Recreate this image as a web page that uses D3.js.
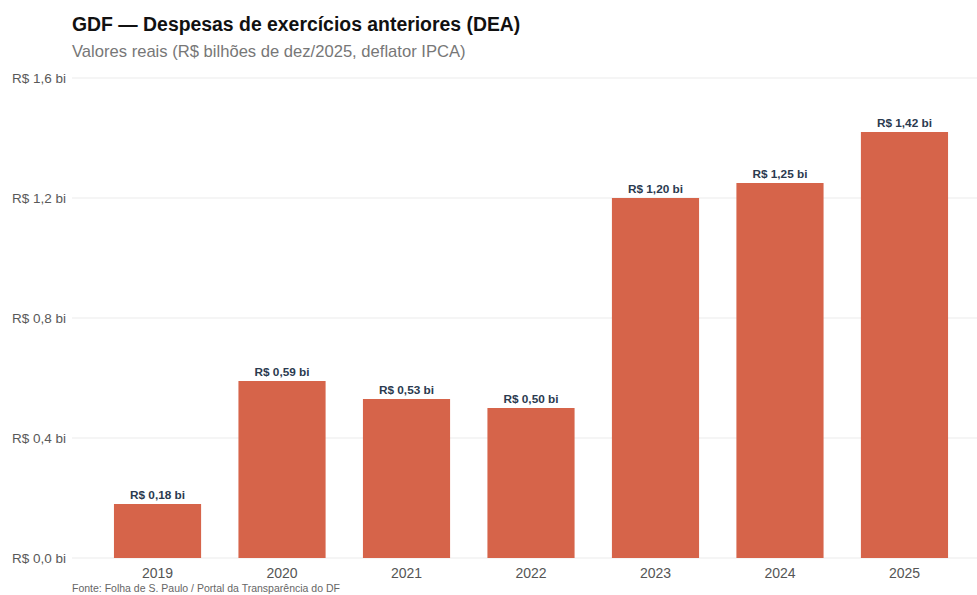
<!DOCTYPE html>
<html><head><meta charset="utf-8">
<script src="https://cdn.jsdelivr.net/npm/d3@7"></script>
<style>body{margin:0;background:#fff}svg{display:block}</style>
</head><body>
<script>
const years = ["2019","2020","2021","2022","2023","2024","2025"];
const values = [0.18, 0.59, 0.53, 0.50, 1.20, 1.25, 1.42];
const yTicks = [0, 0.4, 0.8, 1.2, 1.6];
const title = "GDF — Despesas de exercícios anteriores (DEA)";
const subtitle = "Valores reais (R$ bilhões de dez/2025, deflator IPCA)";
const source = "Fonte: Folha de S. Paulo / Portal da Transparência do DF";

const W = 977, H = 595;
const font = "Liberation Sans, Arial, Helvetica, sans-serif";
const svg = d3.select("body").append("svg").attr("width", W).attr("height", H).style("font-family", font);

const x = d3.scaleBand().domain(years).range([72, 990]).paddingInner(0.3).paddingOuter(0.337);
const y = d3.scaleLinear().domain([0, 1.6]).range([558, 78]);
const fmt = v => "R$ " + v.toFixed(1).replace(".", ",") + " bi";
const fmt2 = v => "R$ " + v.toFixed(2).replace(".", ",") + " bi";

const g = svg.append("g");
g.selectAll("line.grid").data(yTicks).join("line")
  .attr("x1", 72).attr("x2", W).attr("y1", d => y(d)).attr("y2", d => y(d))
  .attr("stroke", "#ebebeb").attr("stroke-width", 1.2);
g.selectAll("text.yl").data(yTicks).join("text")
  .attr("x", 66).attr("y", d => y(d)).attr("dy", "0.35em").attr("text-anchor", "end")
  .attr("font-size", 13.5).attr("fill", "#595959").text(fmt);

g.selectAll("rect").data(values).join("rect")
  .attr("x", (d, i) => x(years[i])).attr("width", x.bandwidth())
  .attr("y", d => y(d)).attr("height", d => y(0) - y(d)).attr("fill", "#D6644A");

g.selectAll("text.bl").data(values).join("text")
  .attr("x", (d, i) => x(years[i]) + x.bandwidth() / 2).attr("y", d => y(d) - 5)
  .attr("text-anchor", "middle").attr("font-size", 11.8).attr("font-weight", "bold")
  .attr("fill", "#2b3a4f").text(fmt2);

g.selectAll("text.xl").data(years).join("text")
  .attr("x", d => x(d) + x.bandwidth() / 2).attr("y", 578)
  .attr("text-anchor", "middle").attr("font-size", 14).attr("fill", "#555").text(d => d);

svg.append("text").attr("x", 72).attr("y", 31).attr("font-size", 19.4).attr("font-weight", "bold").attr("fill", "#111").text(title);
svg.append("text").attr("x", 72).attr("y", 57).attr("font-size", 16.6).attr("fill", "#777").text(subtitle);
svg.append("text").attr("x", 72).attr("y", 592).attr("font-size", 10.5).attr("fill", "#666").text(source);
</script>
</body></html>
